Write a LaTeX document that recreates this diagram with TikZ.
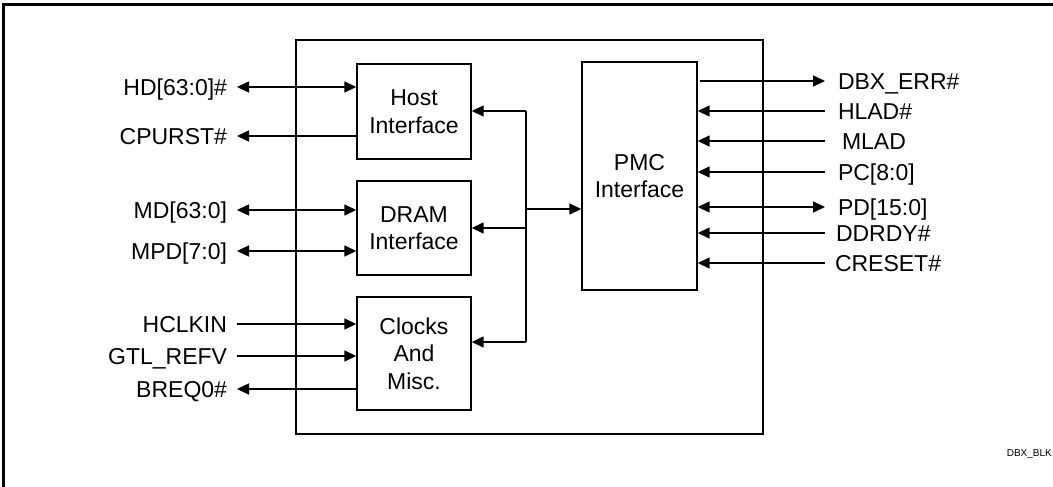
\documentclass[tikz,border=0pt]{standalone}
\usepackage{fontspec}
\setmainfont{Liberation Sans}
\usetikzlibrary{arrows.meta}
\begin{document}
\begin{tikzpicture}[x=1pt,y=-1pt,
  every node/.style={font=\fontsize{23}{27.5}\selectfont},
  blk/.style={draw,line width=1.4pt,inner sep=0pt,align=center},
  llbl/.style={anchor=east,inner xsep=10pt,inner ysep=0pt,outer sep=0pt,text height=16.5pt,text depth=0pt},
  rlbl/.style={anchor=west,inner xsep=13pt,inner ysep=0pt,outer sep=0pt,text height=16.5pt,text depth=0pt},
  sig/.style={line width=1.5pt,-{Triangle[length=12pt,width=11pt]}},
  bsig/.style={line width=1.5pt,{Triangle[length=12pt,width=11pt]}-{Triangle[length=12pt,width=11pt]}},
  wire/.style={line width=1.5pt}]
\useasboundingbox (0,0) rectangle (1053,487);
\fill[white] (0,0) rectangle (1053,487);
% outer frame
\draw[line width=3pt] (3.5,487) -- (3.5,5) -- (1053,5);
% chip box
\node[draw,line width=1.4pt,minimum width=467pt,minimum height=394pt,inner sep=0pt] (chip) at (529.5,237) {};
% blocks
\node[blk,minimum width=114pt,minimum height=95pt] (host) at (414,111.5) {Host\\Interface};
\node[blk,minimum width=114pt,minimum height=94pt] (dram) at (414,228) {DRAM\\Interface};
\node[blk,minimum width=114pt,minimum height=113pt] (clk) at (414,353.5) {Clocks\\And\\Misc.};
\node[blk,minimum width=115pt,minimum height=228pt] (pmc) at (639.5,176) {PMC\\Interface};
% left labels
\node[llbl] (hd) at (237,87) {HD[63:0]\#};
\node[llbl] (cpurst) at (237,136) {CPURST\#};
\node[llbl] (md) at (237,210) {MD[63:0]};
\node[llbl] (mpd) at (237,251) {MPD[7:0]};
\node[llbl] (hclk) at (237,324) {HCLKIN};
\node[llbl] (gtl) at (237,356) {GTL\_REFV};
\node[llbl] (breq) at (237,389) {BREQ0\#};
% right labels
\node[rlbl] (dbx) at (825,81) {DBX\_ERR\#};
\node[rlbl] (hlad) at (825,111) {HLAD\#};
\node[rlbl] (mlad) at (829,141) {MLAD};
\node[rlbl] (pc) at (825,172) {PC[8:0]};
\node[rlbl] (pd) at (825,207) {PD[15:0]};
\node[rlbl] (ddrdy) at (823,233) {DDRDY\#};
\node[rlbl] (creset) at (822,263) {CRESET\#};
\node[anchor=east,inner sep=0pt,font=\fontsize{10}{12}\selectfont] (tag) at (1052,454) {DBX\_BLK};
% left connectors
\draw[bsig] (hd.east) -- (hd.east -| host.west);
\draw[sig] (cpurst.east -| host.west) -- (cpurst.east);
\draw[bsig] (md.east) -- (md.east -| dram.west);
\draw[bsig] (mpd.east) -- (mpd.east -| dram.west);
\draw[sig] (hclk.east) -- (hclk.east -| clk.west);
\draw[sig] (gtl.east) -- (gtl.east -| clk.west);
\draw[sig] (breq.east -| clk.west) -- (breq.east);
% internal bus
\coordinate (bt) at (526,111);
\coordinate (bm) at (526,228);
\coordinate (bb) at (526,342);
\coordinate (bp) at (526,209);
\draw[wire] (bt) -- (bb);
\draw[sig] (bt) -- (bt -| host.east);
\draw[sig] (bm) -- (bm -| dram.east);
\draw[sig] (bb) -- (bb -| clk.east);
\draw[sig] (bp) -- (bp -| pmc.west);
% right connectors
\draw[sig] ([xshift=2pt]pmc.east |- dbx.west) -- (dbx.west);
\draw[sig] (dbx.west |- hlad.west) -- (hlad.west -| pmc.east);
\draw[sig] (dbx.west |- mlad.west) -- (mlad.west -| pmc.east);
\draw[sig] (dbx.west |- pc.west) -- (pc.west -| pmc.east);
\draw[bsig] (dbx.west |- pd.west) -- (pd.west -| pmc.east);
\draw[sig] (dbx.west |- ddrdy.west) -- (ddrdy.west -| pmc.east);
\draw[sig] (dbx.west |- creset.west) -- (creset.west -| pmc.east);
\end{tikzpicture}
\end{document}
